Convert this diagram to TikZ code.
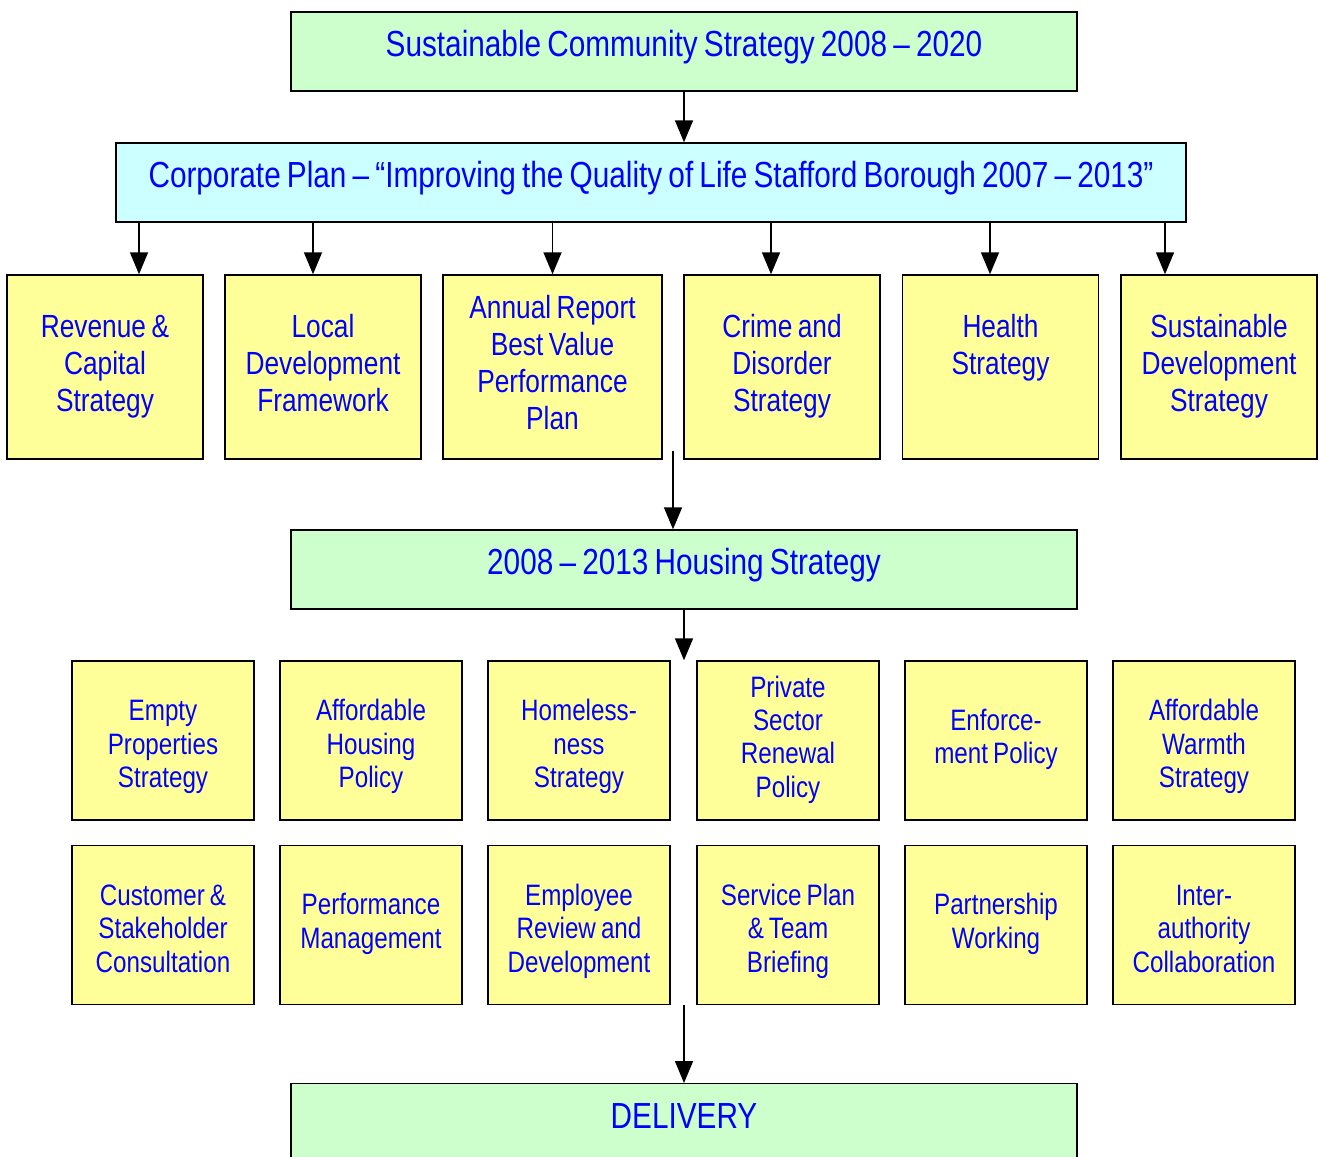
\documentclass[tikz,border=0pt]{standalone}
\usepackage{fontspec}
\setmainfont{Liberation Sans}[FakeStretch=0.82, WordSpace=0.75]
\usetikzlibrary{arrows.meta, positioning, calc}
\definecolor{bannergreen}{HTML}{CCFFCC}
\definecolor{plancyan}{HTML}{CCFFFF}
\definecolor{noteyellow}{HTML}{FFFF99}
\definecolor{textblue}{HTML}{0000FF}

\begin{document}
\begin{tikzpicture}[x=0.025cm, y=-0.025cm,
  banner/.style={rectangle, draw=black, fill=bannergreen, line width=1pt, text=textblue, minimum width=19.65cm, minimum height=1.975cm, text height=21pt, text depth=14pt, font=\fontsize{25.8}{30}\selectfont},
  plan/.style={banner, fill=plancyan, minimum width=26.75cm},
  topic/.style={rectangle, draw=black, fill=noteyellow, line width=1pt, text=textblue, align=flush center, minimum width=4.9cm, minimum height=4.6cm, text width=4.6cm, inner sep=0pt, font=\fontsize{22.8}{26.3}\selectfont, execute at begin node=\strut, execute at end node=\strut},
  task/.style={topic, minimum width=4.55cm, minimum height=3.975cm, text width=4.3cm, font=\fontsize{21}{23.8}\selectfont},
  task3/.style={task, execute at begin node={\rule{0pt}{26.7pt}}},
  arrow/.style={line width=1pt, -{Triangle[length=15.6pt, width=12.8pt]}}]

\useasboundingbox (0,0) rectangle (1320,1156);

% strategies
\node[banner] (scs) at (684,51.5) {Sustainable Community Strategy 2008 -- 2020};
\node[plan] (corp) at (651,182.5) {Corporate Plan -- ``Improving the Quality of Life Stafford Borough 2007 -- 2013''};

\node[topic] (rev) at (105,367) {Revenue \&\\ Capital\\ Strategy};
\node[topic] (ldf) at (323,367) {Local\\ Development\\ Framework};
\node[topic, minimum width=5.475cm, text width=5.2cm] (arp) at (552.5,367) {Annual Report\\ Best Value\\ Performance\\ Plan};
\node[topic] (cds) at (782,367) {Crime and\\ Disorder\\ Strategy};
\node[topic] (hs) at (1000.5,367) {Health\\ Strategy\\ \mbox{}};
\node[topic] (sds) at (1219,367) {Sustainable\\ Development\\ Strategy};

\node[banner] (hstr) at (684,569.5) {2008 -- 2013 Housing Strategy};

% housing policies
\node[task3] (eps) at (163,740.5) {Empty\\ Properties\\ Strategy};
\node[task3] (ahp) at (371,740.5) {Affordable\\ Housing\\ Policy};
\node[task3] (hls) at (579,740.5) {Homeless-\\ ness\\ Strategy};
\node[task] (psr) at (788,740.5) {Private\\ Sector\\ Renewal\\ Policy};
\node[task] (enf) at (996,740.5) {Enforce-\\ ment Policy};
\node[task3] (aws) at (1204,740.5) {Affordable\\ Warmth\\ Strategy};

\node[task3] (csc) at (163,925) {Customer \&\\ Stakeholder\\ Consultation};
\node[task] (pm) at (371,925) {Performance\\ Management};
\node[task3] (erd) at (579,925) {Employee\\ Review and\\ Development};
\node[task3] (spb) at (788,925) {Service Plan\\ \& Team\\ Briefing};
\node[task] (pw) at (996,925) {Partnership\\ Working};
\node[task3] (iac) at (1204,925) {Inter-\\ authority\\ Collaboration};

\node[banner, anchor=north] (del) at (684,1083) {DELIVERY};

% connectors
\draw[arrow] (scs.south) -- (scs.south |- corp.north);
\foreach \n/\d [count=\i] in {rev/34, ldf/-10, arp/0, cds/-11, hs/-10.5, sds/-54} {
  \path (\n.north) ++(\d,0) coordinate (t\i);
  \draw[arrow] (corp.south -| t\i) -- (t\i);
}
\coordinate (gap) at ($(arp.south east)!0.5!(cds.south west)$);
\draw[arrow] ([yshift=0.225cm]gap) -- (hstr.north -| gap);
\draw[arrow] (hstr) -- (hstr |- psr.north);
\coordinate (gap2) at (hstr |- erd.south);
\draw[arrow] (gap2) -- (del);

\end{tikzpicture}
\end{document}
